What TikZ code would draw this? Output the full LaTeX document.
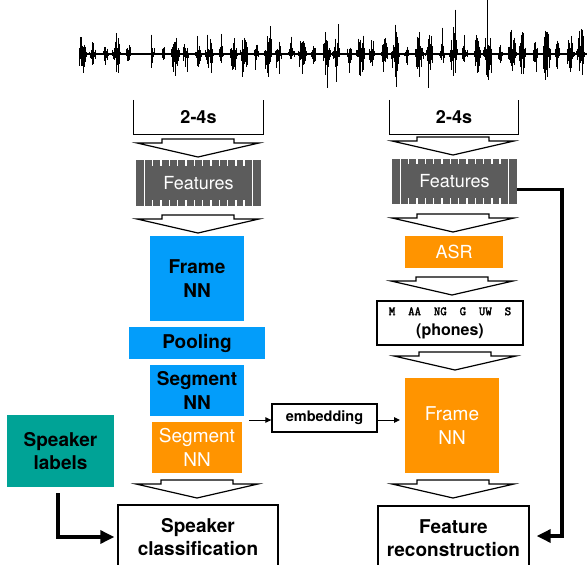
\documentclass[tikz,border=0pt]{standalone}
\usepackage{fontspec}
\setmainfont{TeX Gyre Heros}
\newfontfamily\phonefont[FakeBold=2.5]{Latin Modern Mono}
\usepackage{tikz}
\usetikzlibrary{positioning}
\usetikzlibrary{arrows.meta}
\definecolor{nnblue}{RGB}{3,157,250}
\definecolor{nnorange}{RGB}{255,148,0}
\definecolor{spkteal}{RGB}{0,163,150}
\definecolor{featgray}{RGB}{92,92,92}
\tikzstyle{thickarrow} = [line width=3.3pt,line join=miter,-{Triangle[length=14pt,width=13pt]}]
\tikzstyle{thinarrow} = [line width=1pt,-{Triangle[length=6pt,width=5.5pt]}]
\tikzstyle{bluebox} = [fill=nnblue,align=center,inner sep=0,outer sep=0,font=\fontsize{19}{24.5}\selectfont\bfseries]
\tikzstyle{orangebox} = [fill=nnorange,text=white,align=center,inner sep=0,outer sep=0,font=\fontsize{19}{24.5}\selectfont]
\tikzstyle{outbox} = [draw,line width=1.4pt,align=center,inner sep=0,font=\fontsize{19}{23.5}\selectfont\bfseries]
\tikzstyle{window} = [inner sep=0,minimum height=34pt,font=\fontsize{18}{20}\selectfont\bfseries]
\tikzstyle{featbox} = [fill=featgray,text=white,inner sep=0,outer sep=0,minimum width=125pt,minimum height=45pt,
  font=\fontsize{18}{20}\selectfont,
  path picture={
    \foreach \k in {1,...,14}
      \fill[white] ([xshift=\k*8.33pt-0.8pt]path picture bounding box.south west) rectangle ([xshift=\k*8.33pt+0.8pt]path picture bounding box.north west);
    \fill[featgray] ([xshift=16pt,yshift=-5pt]path picture bounding box.north west) rectangle ([xshift=-14pt,yshift=6pt]path picture bounding box.south east);
  }]
\tikzset{bigarrow/.pic={
  \draw[fill=white,line width=1.2pt,line join=miter] (-36,0) -- (36,0) -- (36,4) -- (61,4) -- (0,18) -- (-61,4) -- (-36,4) -- cycle;
}}

\begin{document}
\begin{tikzpicture}[x=1pt,y=-1pt]
\useasboundingbox (0,0) rectangle (588,564);

%Waveform
\pgfmathsetseed{4}
\foreach \i in {0,...,634}{
  \pgfmathsetmacro\x{79+0.8*\i}
  \pgfmathsetmacro\env{max(0,0.25+0.6*sin(\i*24.8)+0.4*sin(\i*9.36+20))*(0.8+0.4*(\x-78)/510)*((\x<134)||(\x>151))}
  \pgfmathsetmacro\up{\env*(3+20*rnd)+\env*ifthenelse(rnd>0.94,25*rnd,0)}
  \pgfmathsetmacro\dn{\env*(3+20*rnd)+\env*ifthenelse(rnd>0.94,25*rnd,0)}
  \draw[line width=0.65pt] (\x,54-\up) -- (\x,54+\dn);
}
\draw[line width=1.8pt] (79,54) -- (587,54);

%Nodes
\node[window,minimum width=129pt] (win1) at (198.5,117) {2-4s};
\node[window,minimum width=128pt] (win2) at (454,117) {2-4s};
\node[featbox] (feat1) at (198.5,183) {Features};
\node[featbox] (feat2) at (454.5,181.5) {Features};

\node[bluebox,minimum width=94pt,minimum height=85pt] (frame1) at (197,278.5) {Frame\\NN};
\node[bluebox,minimum width=136pt,minimum height=32pt,below=6pt of frame1] (pool) {Pooling};
\node[bluebox,minimum width=94pt,minimum height=51pt,below=6pt of pool] (seg1) {Segment\\NN};
\node[orangebox,minimum width=90pt,minimum height=51pt,below=6pt of seg1] (seg2) {Segment\\NN};
\node[outbox,minimum width=160pt,minimum height=64pt] (classify) at (198,537) {Speaker\\classification};
\node[fill=spkteal,align=center,inner sep=0,minimum width=107pt,minimum height=72pt,font=\fontsize{19}{23.5}\selectfont\bfseries] (spk) at (60.5,451) {Speaker\\labels};

\node[orangebox,minimum width=98pt,minimum height=32pt,font=\fontsize{18}{20}\selectfont] (asr) at (454,252) {ASR};
\node[outbox,line width=1.3pt,minimum width=146pt,minimum height=44pt,font=\fontsize{16}{20}\selectfont\bfseries] (phones) at (450,323) {{\phonefont\fontsize{12.5}{14}\selectfont M\ \ AA\ \ NG\ \ G\ \ UW\ \ S}\\(phones)};
\node[orangebox,minimum width=94pt,minimum height=95pt] (frame2) at (452,425.5) {Frame\\NN};
\node[outbox,minimum width=151pt,minimum height=64pt] (recon) at (453.5,538) {Feature\\reconstruction};

\node[draw,line width=1.3pt,inner sep=0,minimum width=105pt,minimum height=28pt,font=\fontsize{14.5}{16}\selectfont\bfseries] (emb) at (324.5,418) {embedding};
\coordinate (tap) at (249,420);
\coordinate (turn) at (562,536);

%Block arrows
\pic at (198,139) {bigarrow};
\pic at (198,215) {bigarrow};
\pic at (197,480) {bigarrow};
\pic at (453,137) {bigarrow};
\pic at (453,214) {bigarrow};
\pic at (452,277) {bigarrow};
\pic at (455,352) {bigarrow};
\pic at (453,480) {bigarrow};

%Lines
\draw[line width=1pt] (win1.north west) |- (win1.south east) -- (win1.north east);
\draw[line width=1pt] (win2.north west) |- (win2.south east) -- (win2.north east);
\draw[thinarrow] (tap) -- (tap -| emb.west);
\draw[thinarrow,shorten >=5pt] (tap -| emb.east) -- (tap -| frame2.west);
\draw[thickarrow,shorten >=3pt] ([xshift=-2.5pt,yshift=-6pt]spk.south) |- (classify.west);
\draw[thickarrow,shorten >=7pt] ([yshift=-8pt]feat2.east) -| (turn) -- (turn -| recon.east);

\end{tikzpicture}
\end{document}
